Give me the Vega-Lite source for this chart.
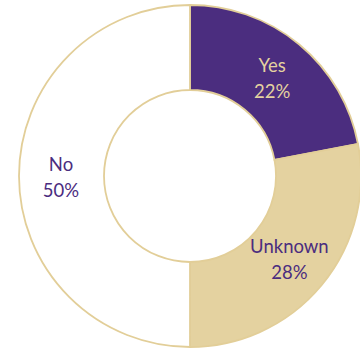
{
  "$schema": "https://vega.github.io/schema/vega-lite/v6.json",
  "width": 340,
  "height": 350,
  "autosize": {"type": "none"},
  "padding": {"left": 20, "top": 1, "right": 0, "bottom": 0},
  "background": "white",
  "config": {"view": {"stroke": null}},
  "data": {
    "values": [
      {"cat": "Yes", "value": 22, "rank": 1, "label": "Yes\n22%"},
      {"cat": "Unknown", "value": 28, "rank": 2, "label": "Unknown\n28%"},
      {"cat": "No", "value": 50, "rank": 3, "label": "No\n50%"}
    ]
  },
  "encoding": {
    "theta": {"field": "value", "type": "quantitative", "stack": true},
    "order": {"field": "rank", "type": "quantitative", "sort": "ascending"}
  },
  "layer": [
    {
      "mark": {"type": "arc", "outerRadius": 171, "innerRadius": 86, "stroke": "#E2CE98", "strokeWidth": 1.8},
      "encoding": {
        "color": {
          "field": "cat",
          "type": "nominal",
          "scale": {"domain": ["Yes", "Unknown", "No"], "range": ["#4B2D7F", "#E4D2A0", "#FFFFFF"]},
          "legend": null
        }
      }
    },
    {
      "mark": {"type": "text", "radius": 129, "dy": -11, "font": "Lato", "fontSize": 18.5, "lineBreak": "\n", "lineHeight": 26, "baseline": "middle", "align": "center"},
      "encoding": {
        "text": {"field": "label", "type": "nominal"},
        "color": {
          "condition": {"test": "datum.cat === 'Yes'", "value": "#E4D2A0"},
          "value": "#4B2D7F"
        }
      }
    }
  ]
}
